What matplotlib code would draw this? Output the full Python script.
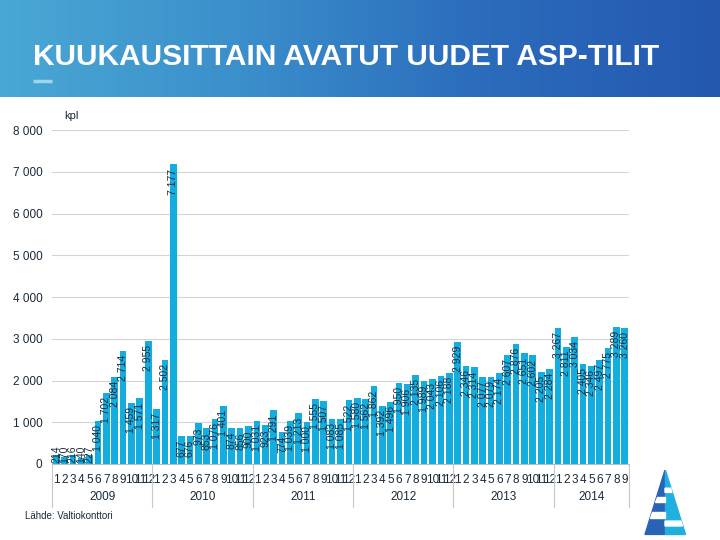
import matplotlib
matplotlib.use("Agg")
import matplotlib.pyplot as plt
import numpy as np
from matplotlib.patches import Polygon
from matplotlib.colors import LinearSegmentedColormap

plt.rcParams['font.family'] = ['Liberation Sans', 'DejaVu Sans']

# Monthly new ASP accounts, 2009-01 .. 2014-09
years = ["2009", "2010", "2011", "2012", "2013", "2014"]
v2009 = [214, 170, 216, 140, 227, 1040, 1702, 2084, 2714, 1459, 1571, 2955]
v2010 = [1317, 2502, 7177, 677, 676, 973, 853, 1076, 1401, 874, 856, 900]
v2011 = [1031, 923, 1291, 774, 1039, 1213, 1000, 1555, 1507, 1083, 1085, 1522]
v2012 = [1580, 1562, 1862, 1392, 1496, 1950, 1906, 2135, 1989, 2043, 2106, 2188]
v2013 = [2929, 2346, 2314, 2077, 2079, 2174, 2607, 2876, 2651, 2602, 2205, 2284]
v2014 = [3267, 2811, 3034, 2405, 2346, 2497, 2775, 3289, 3260]
yticks = [0, 1000, 2000, 3000, 4000, 5000, 6000, 7000, 8000]

values = v2009 + v2010 + v2011 + v2012 + v2013 + v2014
per_year = [len(v) for v in (v2009, v2010, v2011, v2012, v2013, v2014)]
months = [str(m) for n in per_year for m in range(1, n + 1)]
x = np.arange(len(values))

bar_color = "#14ADDF"
text_dark = "#1a2a3a"

fig = plt.figure(figsize=(7.2, 5.4), dpi=100)

# header banner with gradient
hdr = fig.add_axes([0, 1 - 97 / 540, 1, 97 / 540])
grad = np.linspace(0, 1, 256)[None, :]
cmap = LinearSegmentedColormap.from_list("hdr", ["#4aa8d4", "#3b8fcb", "#2b6cbc", "#2458b0"])
hdr.imshow(grad, aspect="auto", cmap=cmap, extent=[0, 1, 0, 1])
hdr.set_xlim(0, 1)
hdr.set_ylim(0, 1)
hdr.axis("off")
hdr.text(33 / 720, 0.41, "KUUKAUSITTAIN AVATUT UUDET ASP-TILIT", color="white",
         fontsize=21.5, fontweight="bold", va="center", ha="left")
hdr.plot([33 / 720, 52 / 720], [0.17, 0.17], color="#9fd6ee", lw=2.5, solid_capstyle="butt")

# main chart
ax = fig.add_axes([52 / 720, 1 - 464 / 540, 577 / 720, 334 / 540])
ax.bar(x, values, width=0.8, color=bar_color, zorder=3)
ax.set_xlim(-0.5, len(values) - 0.5)
ax.set_ylim(0, 8000)
ax.set_yticks(yticks)
ax.set_yticklabels([f"{t:,}".replace(",", " ") for t in yticks], fontsize=8.5, color=text_dark)
ax.yaxis.grid(True, color="#d4d4d4", lw=0.8, zorder=0)
ax.tick_params(axis="y", length=0, pad=7)
ax.set_xticks(x)
ax.set_xticklabels(months, fontsize=8.5, color=text_dark)
ax.tick_params(axis="x", length=0, pad=7)
for s in ["top", "right", "left"]:
    ax.spines[s].set_visible(False)
ax.spines["bottom"].set_color("#bdbdbd")

for xi, v in zip(x, values):
    lab = f"{v:,}".replace(",", " ")
    if v < 600:
        ax.annotate(lab, (xi, 0), xytext=(0, 1), textcoords="offset points",
                    rotation=90, ha="center", va="bottom", fontsize=7.5, color=text_dark, zorder=4)
    else:
        ax.annotate(lab, (xi, v), xytext=(0, -3), textcoords="offset points",
                    rotation=90, ha="center", va="top", fontsize=7.5, color=text_dark, zorder=4)

# year separators and labels
trans = ax.get_xaxis_transform()
start = 0
bounds = [-0.5]
for yr, n in zip(years, per_year):
    ax.text(start + (n - 1) / 2, -0.1, yr, transform=trans, ha="center", va="center",
            fontsize=8.5, color=text_dark)
    start += n
    bounds.append(start - 0.5)
for b in bounds:
    ax.plot([b, b], [0, -0.13], transform=trans, color="#c8c8c8", lw=0.8, clip_on=False)

fig.text(64 / 720, 1 - 116 / 540, "kpl", fontsize=8, color=text_dark, va="center")
fig.text(25 / 720, 1 - 516 / 540, "Lähde: Valtiokonttori", fontsize=7, color=text_dark, va="center")

# logo (sail)
lg = fig.add_axes([640 / 720, 0, 50 / 720, 70 / 540])
lg.set_xlim(0, 1)
lg.set_ylim(0, 1)
lg.axis("off")
lg.add_patch(Polygon([[0.5, 1.0], [0.1, 0.08], [0.5, 0.08]], closed=True, color="#2a62b5"))
lg.add_patch(Polygon([[0.5, 1.0], [0.5, 0.08], [0.9, 0.08]], closed=True, color="#1fb0e0"))
for y0, y1 in [(0.55, 0.62), (0.32, 0.4)]:
    xl0 = 0.5 - 0.4 * (1 - y0) / 0.92
    xl1 = 0.5 - 0.4 * (1 - y1) / 0.92
    lg.add_patch(Polygon([[xl0, y0], [0.5, y0], [0.5, y1], [xl1, y1]], closed=True, color="white"))
for y0, y1 in [(0.68, 0.74), (0.2, 0.27)]:
    xr0 = 0.5 + 0.4 * (1 - y0) / 0.92
    xr1 = 0.5 + 0.4 * (1 - y1) / 0.92
    lg.add_patch(Polygon([[0.5, y0], [xr0, y0], [xr1, y1], [0.5, y1]], closed=True, color="white"))

fig.savefig("out.png", dpi=100)
